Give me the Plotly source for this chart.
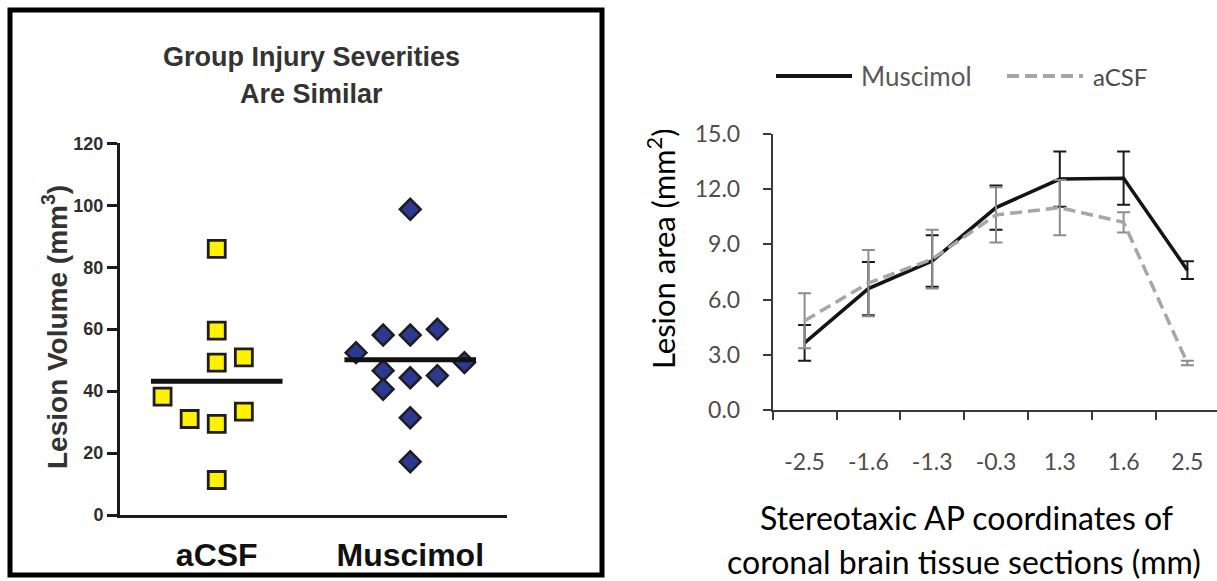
import plotly.graph_objects as go

W, H = 1217, 581

# ---- left panel: individual lesion volumes per group ----
groups = ["aCSF", "Muscimol"]
acsf_volume = [38.2, 31.0, 85.9, 59.5, 49.2, 29.4, 11.3, 50.9, 33.4]
musc_volume = [52.4, 58.1, 46.6, 40.6, 98.7, 58.1, 44.3, 31.4, 17.2, 60.0, 45.0, 49.2]
volume_ticks = [0, 20, 40, 60, 80, 100, 120]

# horizontal spread of the dots inside each column (category units)
acsf_offset = [-0.28, -0.14, 0, 0, 0, 0, 0, 0.14, 0.14]
musc_offset = [-0.28, -0.14, -0.14, -0.14, 0, 0, 0, 0, 0, 0.14, 0.14, 0.28]

# ---- right panel: lesion area along the AP axis ----
ap_coords = ["-2.5", "-1.6", "-1.3", "-0.3", "1.3", "1.6", "2.5"]
musc_area = [3.65, 6.6, 8.1, 11.0, 12.55, 12.6, 7.6]
musc_sem = [0.97, 1.45, 1.4, 1.2, 1.5, 1.45, 0.48]
acsf_area = [4.85, 6.9, 8.2, 10.6, 11.0, 10.2, 2.55]
acsf_sem = [1.5, 1.8, 1.6, 1.5, 1.5, 0.55, 0.12]
area_ticks = [0, 3, 6, 9, 12, 15]


def px(x):
    return x / W


def py(y):
    return 1 - y / H


ARIAL = "Liberation Sans, Arial, sans-serif"
HUMAN = "Lato, Open Sans, sans-serif"

fig = go.Figure()

# dot plot
fig.add_trace(go.Scatter(
    x=[0 + o for o in acsf_offset], y=acsf_volume, mode="markers",
    marker=dict(symbol="square", size=17, color="#FFF200",
                line=dict(color="#1e1e1e", width=2.8)),
    xaxis="x", yaxis="y", showlegend=False))
fig.add_trace(go.Scatter(
    x=[1 + o for o in musc_offset], y=musc_volume, mode="markers",
    marker=dict(symbol="diamond", size=16, color="#2B3990",
                line=dict(color="#1e1e1e", width=2.5)),
    xaxis="x", yaxis="y", showlegend=False))

# group means
for i, vals in enumerate([acsf_volume, musc_volume]):
    m = sum(vals) / len(vals)
    fig.add_trace(go.Scatter(
        x=[i - 0.34, i + 0.34], y=[m, m], mode="lines",
        line=dict(color="#111111", width=5),
        xaxis="x", yaxis="y", showlegend=False))

# line chart with error bars
fig.add_trace(go.Scatter(
    x=ap_coords, y=musc_area, mode="lines",
    line=dict(color="#141414", width=3.5),
    error_y=dict(type="data", array=musc_sem, color="#1a1a1a", thickness=2, width=6.5),
    xaxis="x2", yaxis="y2", showlegend=False))
fig.add_trace(go.Scatter(
    x=ap_coords, y=acsf_area, mode="lines",
    line=dict(color="#A6A6A6", width=3.5, dash="12px,6px"),
    error_y=dict(type="data", array=acsf_sem, color="#8c8c8c", thickness=2, width=6.5),
    xaxis="x2", yaxis="y2", showlegend=False))

left_y0, left_y1 = 515, 143.3
right_y0, right_y1 = 410, 134

fig.update_layout(
    template="none",
    width=W, height=H,
    margin=dict(l=0, r=0, t=0, b=0, pad=0, autoexpand=False),
    paper_bgcolor="white", plot_bgcolor="white",
    xaxis=dict(
        domain=[px(120), px(507)], range=[-0.5, 1.5], automargin=False,
        tickvals=[0, 1], ticktext=groups, ticks="", ticklabelstandoff=10,
        tickfont=dict(family=ARIAL, size=32, color="#111111", weight="bold"),
        showline=True, linecolor="#1a1a1a", linewidth=3,
        showgrid=False, zeroline=False, anchor="y", fixedrange=True),
    yaxis=dict(
        domain=[py(left_y0), py(left_y1)], range=[0, 120], automargin=False,
        tickvals=volume_ticks, ticks="outside", ticklen=10, tickwidth=2.5,
        tickcolor="#1a1a1a", ticklabelstandoff=0,
        tickfont=dict(family=ARIAL, size=18, color="#2e2e2e", weight="bold"),
        showline=True, linecolor="#1a1a1a", linewidth=3,
        showgrid=False, zeroline=False, anchor="x"),
    xaxis2=dict(
        domain=[px(772.7), 1.0], range=[-0.5, 6.464], type="category",
        automargin=False, categoryorder="array", categoryarray=ap_coords,
        tickson="boundaries", ticks="outside", ticklen=8, tickwidth=1.8,
        tickcolor="#3a3a3a", ticklabelstandoff=30,
        tickfont=dict(family=HUMAN, size=23, color="#4d4d4d"),
        showline=True, linecolor="#3a3a3a", linewidth=1.8,
        showgrid=False, zeroline=False, anchor="y2"),
    yaxis2=dict(
        domain=[py(right_y0), py(right_y1)], range=[0, 15], automargin=False,
        tickvals=area_ticks, tickformat=".1f", ticks="outside", ticklen=8,
        tickwidth=1.8, tickcolor="#3a3a3a", ticklabelstandoff=18,
        tickfont=dict(family=HUMAN, size=23, color="#4d4d4d"),
        showline=True, linecolor="#3a3a3a", linewidth=1.8,
        showgrid=False, zeroline=False, anchor="x2"),
)

annotations = [
    dict(text="Group Injury Severities", x=px(311), y=py(57),
         font=dict(family=ARIAL, size=27, color="#333333", weight="bold")),
    dict(text="Are Similar", x=px(311), y=py(94),
         font=dict(family=ARIAL, size=27, color="#333333", weight="bold")),
    dict(text="Lesion Volume (mm<sup>3</sup>)", x=px(55), y=py(327), textangle=-90,
         font=dict(family=ARIAL, size=28, color="#333333", weight="bold")),
    dict(text="Lesion area (mm<sup>2</sup>)", x=px(661), y=py(249), textangle=-90,
         font=dict(family=HUMAN, size=31, color="#000000")),
    dict(text="Stereotaxic AP coordinates of", x=px(966), y=py(517),
         font=dict(family=HUMAN, size=32, color="#000000")),
    dict(text="coronal brain tissue sections (mm)", x=px(964), y=py(561),
         font=dict(family=HUMAN, size=32, color="#000000")),
    dict(text="Muscimol", x=px(859), y=py(76), xanchor="left",
         font=dict(family=HUMAN, size=26, color="#595959")),
    dict(text="aCSF", x=px(1091), y=py(76), xanchor="left",
         font=dict(family=HUMAN, size=24, color="#4a4a4a")),
]
for a in annotations:
    a.setdefault("xanchor", "center")
    a.update(xref="paper", yref="paper", yanchor="middle", showarrow=False)
fig.update_layout(annotations=annotations)

shapes = [
    # frame around the left panel
    dict(type="rect", xref="paper", yref="paper",
         x0=px(10), x1=px(602), y0=py(575), y1=py(10),
         line=dict(color="#000000", width=5), fillcolor="rgba(0,0,0,0)"),
    # legend keys
    dict(type="line", xref="paper", yref="paper",
         x0=px(776), x1=px(852), y0=py(76), y1=py(76),
         line=dict(color="#141414", width=4)),
    dict(type="line", xref="paper", yref="paper",
         x0=px(1007), x1=px(1083), y0=py(76), y1=py(76),
         line=dict(color="#A6A6A6", width=4, dash="12px,6px")),
]
fig.update_layout(shapes=shapes)

fig.write_html("out.html")
